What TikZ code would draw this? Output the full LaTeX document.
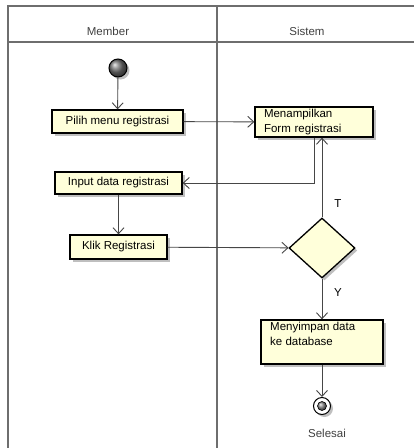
\documentclass[tikz,border=0pt]{standalone}
\usepackage{fontspec}
\setmainfont{Liberation Sans}
\usetikzlibrary{arrows.meta,shapes.geometric,shadows}
\definecolor{actfill}{RGB}{255,255,218}
\definecolor{lanecol}{RGB}{110,110,110}
\definecolor{flowcol}{RGB}{70,70,70}
\begin{document}
\begin{tikzpicture}[x=1pt,y=-1pt,
  shd/.style={drop shadow={shadow xshift=2.5pt,shadow yshift=-2.5pt,fill=black!25,opacity=1}},
  act/.style={draw=black, line width=1.3pt, fill=actfill, shd, font=\fontsize{11.5}{14.5}\selectfont, inner sep=0pt},
  lbl/.style={font=\fontsize{11.5}{14.5}\selectfont, inner sep=0pt},
  flow/.style={draw=flowcol, line width=0.9pt, -{Straight Barb[length=6pt,width=11pt,line width=0.9pt]}},
  lane/.style={draw=lanecol, line width=1.3pt}]
\useasboundingbox (0,0) rectangle (414,448);
% swimlanes
\draw[lane] (8,470) -- (8,6) -- (430,6);
\draw[lane] (8,42) -- (430,42);
\draw[lane] (217,6) -- (217,470);
\node[lbl, text=black!75] (hm) at (108,31) {Member};
\node[lbl, text=black!75] (hs) at (307,31) {Sistem};
% start
\node[circle, draw=black, line width=1pt, minimum size=18pt, inner sep=0pt, shading=ball, ball color=black!55, shd] (start) at (118,68) {};
% activities
\node[act, minimum width=131pt, minimum height=23pt] (pilih) at (117.5,121.5) {Pilih menu registrasi};
\node[act, minimum width=118pt, minimum height=30pt, text width=100pt, align=left] (tamp) at (314,122) {Menampilkan\\Form registrasi};
\node[act, minimum width=127pt, minimum height=22pt] (input) at (118.5,183) {Input data registrasi};
\node[act, minimum width=97pt, minimum height=24pt] (klik) at (118.5,247) {Klik Registrasi};
\node[diamond, draw=black, line width=1.3pt, fill=actfill, shd, minimum width=66pt, minimum height=60pt, inner sep=0pt] (dia) at (322,248) {};
\node[act, minimum width=122pt, minimum height=44pt] (simpan) at (322,342) {};
\node[lbl, anchor=north west, align=left] (simpant) at (270,322) {Menyimpan data\\ke database};
% end
\node[circle, draw=black, line width=1pt, fill=white, minimum size=17pt, inner sep=0pt, shd] (end) at (322,406) {};
\node[circle, draw=black, line width=0.6pt, minimum size=9pt, inner sep=0pt, shading=ball, ball color=black!45] (endin) at (end) {};
\node[lbl, text=black!75] (sel) at (327,433) {Selesai};
% flows
\draw[flow] (start) -- (pilih);
\draw[flow] (pilih) -- (tamp);
\draw[flow] (tamp.south) |- (input.east);
\draw[flow] (input) -- (klik);
\draw[flow] (klik) -- (dia);
\draw[flow] (dia.north) -- (dia.north |- tamp.south);
\draw[flow] (dia.south) -- (simpan.north);
\draw[flow] (simpan) -- (end);
\node[lbl] (t) at (338,204) {T};
\node[lbl] (y) at (338,293) {Y};
\end{tikzpicture}
\end{document}
